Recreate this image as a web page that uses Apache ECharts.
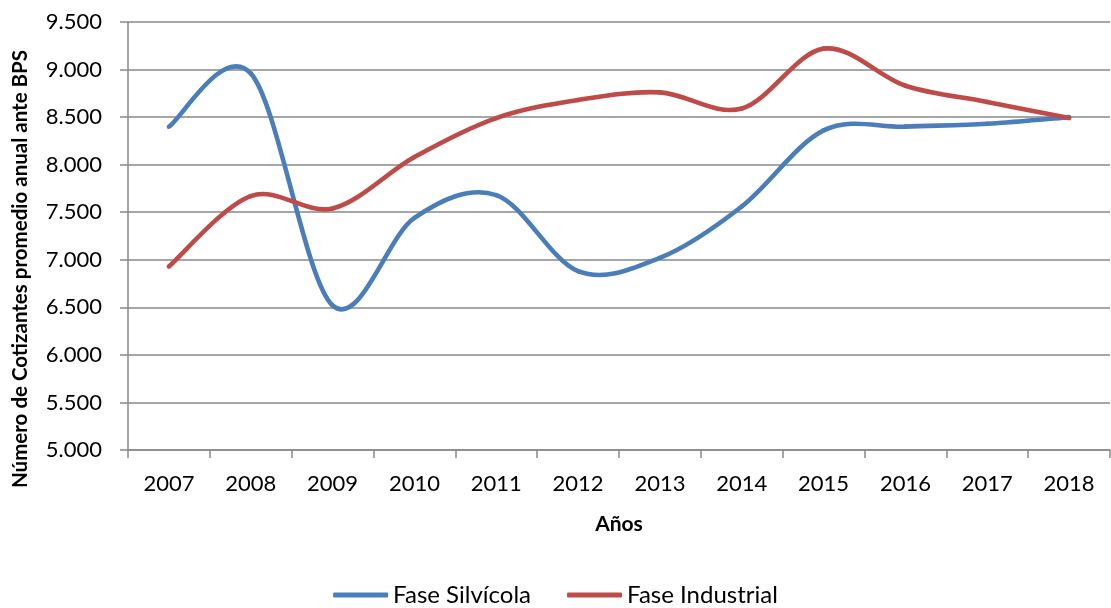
<!DOCTYPE html>
<html>
<head>
<meta charset="utf-8">
<script src="https://cdn.jsdelivr.net/npm/echarts@6/dist/echarts.min.js"></script>
<style>
  html, body { margin: 0; padding: 0; background: #fff; }
  #chart { width: 1111px; height: 608px; }
</style>
</head>
<body>
<div id="chart"></div>
<script>
// data
const years = ['2007', '2008', '2009', '2010', '2011', '2012', '2013', '2014', '2015', '2016', '2017', '2018'];
const faseSilvicola = [8400, 8960, 6520, 7440, 7680, 6880, 7020, 7560, 8360, 8400, 8430, 8500];
const faseIndustrial = [6930, 7670, 7540, 8080, 8490, 8680, 8760, 8590, 9220, 8830, 8660, 8490];

const font = 'Lato, "Open Sans", sans-serif';
const axisGray = '#898989';

// Excel-style smoothed line: one bezier piece per segment, catmull-rom control points
function smoothLine(values, color) {
  return function (params, api) {
    const i = params.dataIndex;
    const n = values.length;
    if (i >= n - 1) return null;
    const pt = k => {
      const j = Math.min(Math.max(k, 0), n - 1);
      return api.coord([j, values[j]]);
    };
    const p0 = pt(i - 1), p1 = pt(i), p2 = pt(i + 1), p3 = pt(i + 2);
    return {
      type: 'bezierCurve',
      shape: {
        x1: p1[0], y1: p1[1],
        x2: p2[0], y2: p2[1],
        cpx1: p1[0] + (p2[0] - p0[0]) / 6,
        cpy1: p1[1] + (p2[1] - p0[1]) / 6,
        cpx2: p2[0] - (p3[0] - p1[0]) / 6,
        cpy2: p2[1] - (p3[1] - p1[1]) / 6
      },
      style: { stroke: color, lineWidth: 4.6, fill: null, lineCap: 'round' }
    };
  };
}

const chart = echarts.init(document.getElementById('chart'));

chart.setOption({
  animation: false,
  textStyle: { fontFamily: font },
  grid: { left: 128, top: 22, width: 982, height: 428 },
  legend: {
    top: 578,
    left: 'center',
    icon: 'roundRect',
    itemWidth: 55,
    itemHeight: 5,
    itemGap: 36,
    textStyle: { fontSize: 24, color: '#000', fontFamily: font },
    data: ['Fase Silvícola', 'Fase Industrial']
  },
  xAxis: {
    type: 'category',
    data: years,
    boundaryGap: true,
    name: 'Años',
    nameLocation: 'middle',
    nameGap: 64,
    nameTextStyle: { fontSize: 21, fontWeight: 'bold', color: '#000' },
    axisLine: { lineStyle: { color: axisGray, width: 1.5 } },
    axisTick: { show: true, length: 8, lineStyle: { color: axisGray, width: 1.5 } },
    axisLabel: { fontSize: 22, color: '#000', margin: 23 }
  },
  yAxis: {
    type: 'value',
    min: 5000,
    max: 9500,
    interval: 500,
    axisLine: { show: true, lineStyle: { color: axisGray, width: 1.5 } },
    axisTick: { show: true, length: 8, lineStyle: { color: axisGray, width: 1.5 } },
    splitLine: { lineStyle: { color: axisGray, width: 1.5 } },
    axisLabel: {
      fontSize: 22,
      color: '#000',
      margin: 26,
      formatter: v => String(v).replace(/\B(?=(\d{3})+(?!\d))/g, '.')
    }
  },
  graphic: [{
    type: 'text',
    x: 20,
    y: 269,
    rotation: Math.PI / 2,
    style: {
      text: 'Número de Cotizantes promedio anual ante BPS',
      fontFamily: font,
      fontSize: 20.5,
      fontWeight: 'bold',
      fill: '#000',
      textAlign: 'center',
      textVerticalAlign: 'middle'
    }
  }],
  series: [
    {
      name: 'Fase Silvícola',
      type: 'custom',
      data: faseSilvicola.map((v, i) => [i, v]),
      renderItem: smoothLine(faseSilvicola, '#4a7ebb'),
      itemStyle: { color: '#4a7ebb' }
    },
    {
      name: 'Fase Industrial',
      type: 'custom',
      data: faseIndustrial.map((v, i) => [i, v]),
      renderItem: smoothLine(faseIndustrial, '#be4b48'),
      itemStyle: { color: '#be4b48' }
    }
  ]
});
</script>
</body>
</html>
